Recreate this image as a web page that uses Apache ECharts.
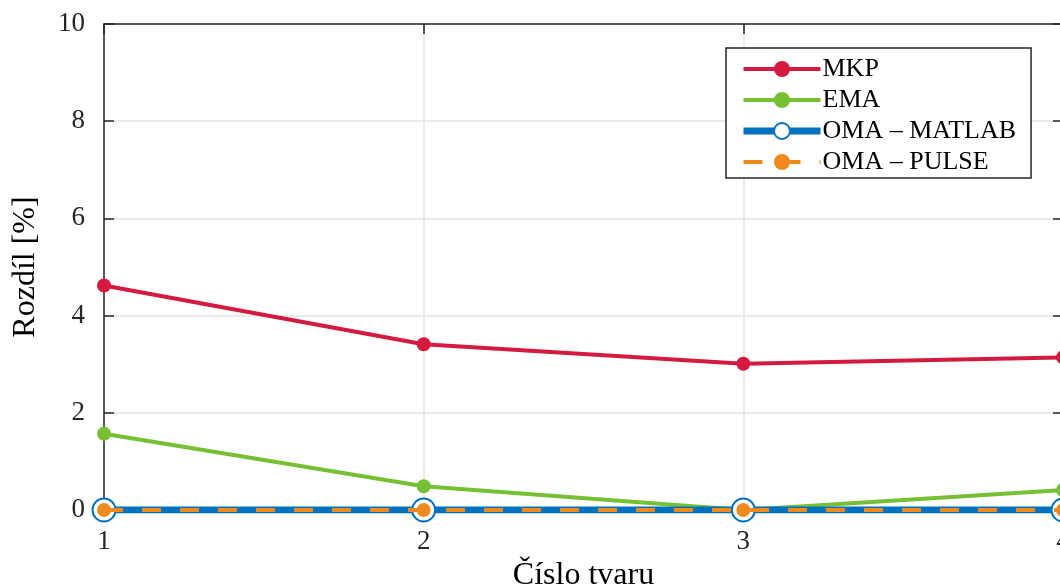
<!DOCTYPE html>
<html>
<head>
<meta charset="utf-8">
<script src="https://cdn.jsdelivr.net/npm/echarts@6/dist/echarts.min.js"></script>
<style>html,body{margin:0;padding:0;background:#fff}#c{width:1060px;height:588px}</style>
</head>
<body>
<div id="c"></div>
<script>
const categories = [1, 2, 3, 4];
const mkp = [4.62, 3.41, 3.01, 3.14];
const ema = [1.57, 0.49, 0.0, 0.41];
const omaMatlab = [0, 0, 0, 0];
const omaPulse = [0, 0, 0, 0];
const yTicks = [0, 2, 4, 6, 8, 10];
const seriesNames = ['MKP', 'EMA', 'OMA – MATLAB', 'OMA – PULSE'];

const FONT = '"Liberation Serif", "Times New Roman", serif';
const axisCol = '#262626';
const C = {red: '#D41A3E', green: '#77C034', blue: '#0072BD', orange: '#EF8A1E'};
const pairs = arr => categories.map((c, i) => [c, arr[i]]);

const chart = echarts.init(document.getElementById('c'), null, {renderer: 'canvas'});
chart.setOption({
  animation: false,
  backgroundColor: '#fff',
  grid: {left: 104, width: 959, top: 24, bottom: 78, containLabel: false, outerBoundsMode: 'none'},
  legend: {
    orient: 'vertical', left: 726, top: 48,
    data: [
      {name: seriesNames[0], lineStyle: {width: 4}},
      {name: seriesNames[1], lineStyle: {width: 4}},
      {name: seriesNames[2], lineStyle: {width: 7}},
      {name: seriesNames[3], lineStyle: {width: 4}}
    ],
    itemWidth: 77, itemHeight: 20, itemGap: 5,
    padding: [8, 15, 3, 14],
    borderColor: axisCol, borderWidth: 1.5, backgroundColor: '#fff',
    textStyle: {fontFamily: FONT, fontSize: 26, color: '#000', lineHeight: 26, padding: [0,0,0,-3]}
  },
  xAxis: [{
    type: 'value', min: 1, max: 4, interval: 1,
    name: 'Číslo tvaru', nameLocation: 'middle', nameGap: 48,
    nameTextStyle: {fontFamily: FONT, fontSize: 32, color: '#000'},
    axisLine: {show: true, onZero: false, lineStyle: {color: axisCol, width: 1.5}},
    axisTick: {show: true, inside: true, length: 10, lineStyle: {color: axisCol, width: 1.5}},
    axisLabel: {fontFamily: FONT, fontSize: 27, color: '#262626', margin: 18},
    splitLine: {show: true, lineStyle: {color: '#E3E3E3', width: 1.5}}
  }, {
    type: 'value', position: 'top', min: 1, max: 4, interval: 1,
    axisLine: {show: true, onZero: false, lineStyle: {color: axisCol, width: 1.5}},
    axisTick: {show: true, inside: true, length: 10, lineStyle: {color: axisCol, width: 1.5}},
    axisLabel: {show: false}, splitLine: {show: false}
  }],
  yAxis: [{
    type: 'value', min: 0, max: 10, interval: 2,
    name: 'Rozdíl [%]', nameLocation: 'middle', nameGap: 62,
    nameTextStyle: {fontFamily: FONT, fontSize: 32, color: '#000'},
    axisLine: {show: true, onZero: false, lineStyle: {color: axisCol, width: 1.5}},
    axisTick: {show: true, inside: true, length: 10, lineStyle: {color: axisCol, width: 1.5}},
    axisLabel: {fontFamily: FONT, fontSize: 27, color: '#262626', margin: 19,
      formatter: v => yTicks.includes(v) ? String(v) : ''},
    splitLine: {show: true, lineStyle: {color: '#E3E3E3', width: 1.5}}
  }, {
    type: 'value', position: 'right', min: 0, max: 10, interval: 2,
    axisLine: {show: true, onZero: false, lineStyle: {color: axisCol, width: 1.5}},
    axisTick: {show: true, inside: true, length: 10, lineStyle: {color: axisCol, width: 1.5}},
    axisLabel: {show: false}, splitLine: {show: false}
  }],
  series: [
    {name: seriesNames[0], type: 'line', data: pairs(mkp), color: C.red,
     lineStyle: {width: 4, color: C.red}, symbol: 'circle', symbolSize: 14, z: 3},
    {name: seriesNames[1], type: 'line', data: pairs(ema), color: C.green,
     lineStyle: {width: 4, color: C.green}, symbol: 'circle', symbolSize: 14, z: 3},
    {name: seriesNames[2], type: 'line', data: pairs(omaMatlab), color: C.blue,
     lineStyle: {width: 7, color: C.blue}, symbol: 'emptyCircle', symbolSize: 23,
     itemStyle: {borderWidth: 4, color: C.blue, borderColor: C.blue}, z: 4},
    {name: seriesNames[3], type: 'line', data: pairs(omaPulse), color: C.orange,
     lineStyle: {width: 4, type: [19, 19], color: C.orange}, symbol: 'circle', symbolSize: 14, z: 5}
  ]
});
</script>
</body>
</html>
